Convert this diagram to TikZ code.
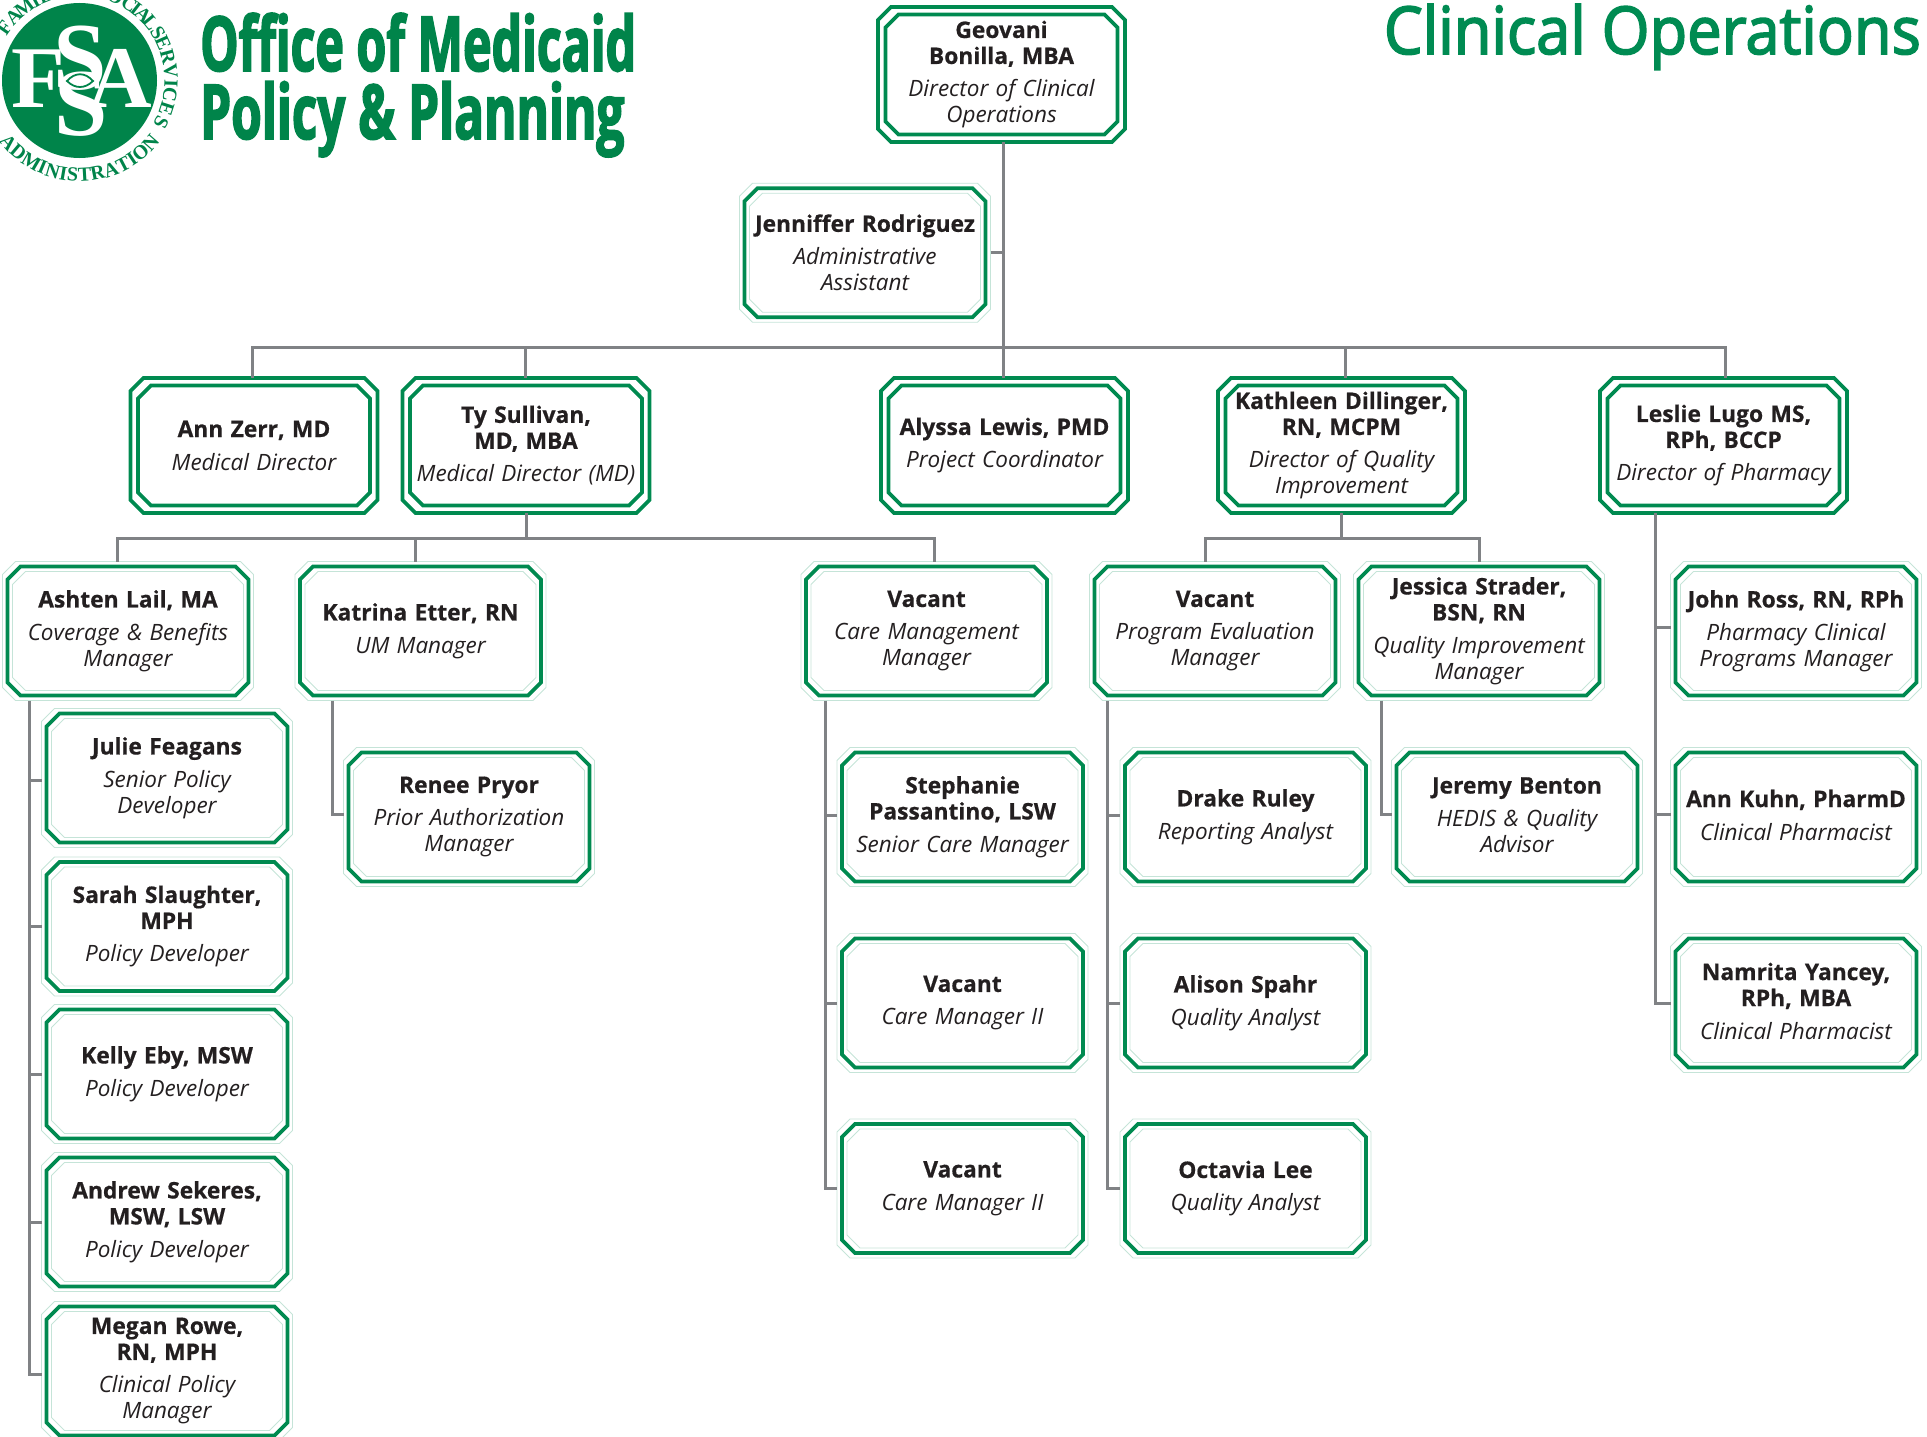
\documentclass[tikz,border=0pt]{standalone}
\usepackage{fontspec}
\usetikzlibrary{calc}
\setmainfont[BoldFeatures={FakeBold=0.6}]{Open Sans}
\newfontfamily\ringfont{Liberation Serif}
\newfontfamily\headfont[FakeStretch=0.635,FakeBold=2]{Open Sans}
\newfontfamily\headfontb[FakeStretch=0.65,FakeBold=2]{Open Sans}
\newfontfamily\titlefont[FakeStretch=0.93,FakeBold=2.5]{Open Sans}
\definecolor{fsagreen}{HTML}{00844A}
\definecolor{linegreen}{HTML}{008A50}
\definecolor{titlegreen}{HTML}{008B52}
\definecolor{palegreen}{HTML}{C5E4D8}
\definecolor{ink}{HTML}{231F20}
\definecolor{wire}{HTML}{808285}
\newcommand{\namefont}{\fontsize{22.8}{26}\bfseries\selectfont}
\newcommand{\rolefont}{\fontsize{22.5}{26}\itshape\selectfont}
\newcommand{\upnudge}{\par\vspace*{4pt}}
\tikzset{
  boxbase/.style={rectangle, inner sep=0pt, outer sep=0pt},
  boxtext/.style={boxbase, text width=230pt, align=center, text=ink, font=\fontsize{22}{26}\selectfont},
  greenline/.style={draw=linegreen, line width=3.8pt},
  paleline/.style={draw=palegreen, line width=0.8pt},
  conn/.style={draw=wire, line width=3pt},
  ringtxt/.style={anchor=base, inner sep=0pt, text=fsagreen, font=\ringfont\bfseries\fontsize{20}{20}\selectfont},
  sealtxt/.style={text=white, inner sep=0pt, font=\ringfont\bfseries\fontsize{88}{88}\selectfont},
  sealess/.style={text=white, inner sep=0pt, font=\ringfont\bfseries\fontsize{96}{96}\selectfont},
}
\newcommand{\chamf}[2]{%
  \draw[#1] ([xshift=13pt]#2.north west) -- ([xshift=-13pt]#2.north east) -- ([yshift=-13pt]#2.north east)
   -- ([yshift=13pt]#2.south east) -- ([xshift=-13pt]#2.south east) -- ([xshift=13pt]#2.south west)
   -- ([yshift=13pt]#2.south west) -- ([yshift=-13pt]#2.north west) -- cycle;
}
\newcommand{\sglnode}[5]{%
  \node[boxbase,minimum width=251pt,minimum height=139pt] (#1-o) at (#2,#3) {};
  \node[boxbase,minimum width=231pt,minimum height=119pt] (#1-i) at (#2,#3) {};
  \node[boxtext,minimum width=241pt,minimum height=129pt] (#1) at (#2,#3) {{\namefont #4}\\[7pt]{\rolefont #5}};
  \chamf{paleline}{#1-o}\chamf{paleline}{#1-i}\chamf{greenline}{#1}
}
\newcommand{\dblnode}[5]{%
  \node[boxbase,minimum width=247pt,minimum height=135pt] (#1-o) at (#2,#3) {};
  \node[boxtext,minimum width=232pt,minimum height=120pt] (#1) at (#2,#3) {{\namefont #4}\\[7pt]{\rolefont #5}};
  \chamf{greenline}{#1-o}\chamf{greenline}{#1}
}
\begin{document}
\begin{tikzpicture}[x=1pt,y=-1pt]
\useasboundingbox (0,0) rectangle (1927,1437);
% logo
\coordinate (c) at (79.5,80.5);
\fill[fsagreen] (c) circle [radius=77.5];
\foreach \ang/\ch [count=\i] in {215/F,224/A,233/M,241/I,248/L,256/Y,268/\&,283/S,293/O,303/C,308/I,314/A,321/L,329/S,336/E,345/R,354/V,362/I,369/C,378/E,387/S}{
  \node[ringtxt,rotate=-\ang-90] (rt\i) at ($(c)+(\ang:85)$) {\ch};
}
\foreach \ang/\ch [count=\i] in {139/A,130.3/D,120.7/M,113.1/I,106.5/N,99.9/I,94.1/S,86.8/T,78.9/R,70.5/A,62.4/T,56.3/I,49.7/O,41/N}{
  \node[ringtxt,rotate=-\ang+90] (rb\i) at ($(c)+(\ang:101)$) {\ch};
}
\node[sealtxt] (logoF) at (38,79) {F};
\node[sealtxt] (logoA) at (120,78) {A};
\node[sealess] (logoS1) at (80.5,58) {S};
\node[sealess] (logoS2) at (81,104) {S};
\draw[fsagreen,line width=1.8pt,fill=white] (67,81) .. controls (75,72) and (85,72) .. (93,81) .. controls (85,89) and (75,89) .. (67,81) -- cycle;
% headings
\node[anchor=base west,inner sep=0,text=fsagreen,font=\headfont\bfseries\fontsize{76}{76}\selectfont] (h1) at (200,71) {Office of Medicaid};
\node[anchor=base west,inner sep=0,text=fsagreen,font=\headfontb\bfseries\fontsize{76}{76}\selectfont] (h2) at (200,139) {Policy \& Planning};
\node[anchor=base east,inner sep=0,text=titlegreen,font=\titlefont\fontsize{66}{66}\selectfont] (title) at (1921,54) {Clinical Operations};
% boxes
\dblnode{geo}{1001.5}{74.5}{Geovani\\Bonilla, MBA}{Director of Clinical\\Operations}
\sglnode{jen}{865}{252.7}{Jenniffer Rodriguez}{Administrative\\Assistant}
\dblnode{ann}{254}{445.5}{Ann Zerr, MD}{Medical Director}
\dblnode{ty}{526}{445.5}{Ty Sullivan,\\MD, MBA}{Medical Director (MD)}
\dblnode{aly}{1004.5}{445.5}{Alyssa Lewis, PMD}{Project Coordinator}
\dblnode{kat}{1341.5}{445.5}{Kathleen Dillinger,\\RN, MCPM}{Director of Quality\\Improvement}
\dblnode{les}{1723.5}{445.5}{Leslie Lugo MS,\\RPh, BCCP}{Director of Pharmacy}
\sglnode{ash}{128}{631}{Ashten Lail, MA}{Coverage \& Benefits\\Manager}
\sglnode{ket}{420.5}{631}{Katrina Etter, RN}{UM Manager}
\sglnode{vcm}{926.5}{631}{Vacant}{Care Management\\Manager}
\sglnode{vpe}{1215}{631}{Vacant}{Program Evaluation\\Manager}
\sglnode{jes}{1479}{631}{Jessica Strader,\\BSN, RN}{Quality Improvement\\Manager}
\sglnode{joh}{1796}{631}{John Ross, RN, RPh}{Pharmacy Clinical\\Programs Manager}
\sglnode{jul}{167}{778}{Julie Feagans}{Senior Policy\\Developer}
\sglnode{sar}{167}{926.5}{Sarah Slaughter,\\MPH}{Policy Developer}
\sglnode{kel}{167}{1074}{Kelly Eby, MSW}{Policy Developer}
\sglnode{and}{167}{1222}{Andrew Sekeres,\\MSW, LSW}{Policy Developer}
\sglnode{meg}{167}{1371}{Megan Rowe,\\RN, MPH}{Clinical Policy\\Manager}
\sglnode{ren}{469}{817}{Renee Pryor}{Prior Authorization\\Manager}
\sglnode{ste}{962.5}{817}{Stephanie\\Passantino, LSW}{Senior Care Manager}
\sglnode{vc1}{962.5}{1003}{Vacant}{Care Manager II}
\sglnode{vc2}{962.5}{1188.5}{Vacant}{Care Manager II}
\sglnode{dra}{1245.5}{817}{Drake Ruley}{Reporting Analyst}
\sglnode{ali}{1245.5}{1003}{Alison Spahr}{Quality Analyst}
\sglnode{oct}{1245.5}{1188.5}{Octavia Lee}{Quality Analyst}
\sglnode{jer}{1517}{817}{Jeremy Benton}{HEDIS \& Quality\\Advisor\upnudge}
\sglnode{aku}{1796}{817}{Ann Kuhn, PharmD}{Clinical Pharmacist\upnudge}
\sglnode{nam}{1796}{1003}{Namrita Yancey,\\RPh, MBA}{Clinical Pharmacist\upnudge}
% connectors
\coordinate (bus1) at (1003,347);
\draw[conn] ([xshift=1.5pt]geo-o.south) -- ([xshift=-1.5pt]aly-o.north);
\draw[conn] (jen-o.east) -- (jen-o.east -| bus1);
\draw[conn] ([xshift=-2pt]ann-o.north) |- (bus1) -| ([xshift=1.5pt]les-o.north);
\draw[conn] ([xshift=-1pt]ty-o.north) -- ([xshift=-1pt]ty-o.north |- bus1);
\draw[conn] ([xshift=3.5pt]kat-o.north) -- ([xshift=3.5pt]kat-o.north |- bus1);
\coordinate (bus2) at (526,538);
\draw[conn] (ty-o.south) -- (bus2);
\draw[conn] ([xshift=-11pt]ash-o.north) |- (bus2) -| ([xshift=8pt]vcm-o.north);
\draw[conn] ([xshift=-5pt]ket-o.north) -- ([xshift=-5pt]ket-o.north |- bus2);
\coordinate (bus3) at (1341.5,538);
\draw[conn] (kat-o.south) -- (bus3);
\draw[conn] ([xshift=-10pt]vpe-o.north) |- (bus3) -| (jes-o.north);
% trunks
\draw[conn] ([xshift=-99pt]ash-o.south) |- ([yshift=-3.7pt]meg-o.west);
\foreach \tgt/\sh in {jul/-2.7,sar/0,kel/0,and/0}{\draw[conn] ([xshift=-99pt,yshift=\sh pt]ash-o.south |- \tgt-o.west) -- ([yshift=\sh pt]\tgt-o.west);}
\draw[conn] ([xshift=-88.5pt]ket-o.south) |- ([yshift=3pt]ren-o.west);
\draw[conn] ([xshift=-101.5pt]vcm-o.south) |- (vc2-o.west);
\foreach \tgt/\sh in {ste/2,vc1/0}{\draw[conn] ([xshift=-101.5pt,yshift=\sh pt]vcm-o.south |- \tgt-o.west) -- ([yshift=\sh pt]\tgt-o.west);}
\draw[conn] ([xshift=-108pt]vpe-o.south) |- (oct-o.west);
\foreach \tgt/\sh in {dra/2,ali/0}{\draw[conn] ([xshift=-108pt,yshift=\sh pt]vpe-o.south |- \tgt-o.west) -- ([yshift=\sh pt]\tgt-o.west);}
\draw[conn] ([xshift=-98pt]jes-o.south) |- ([yshift=3pt]jer-o.west);
\draw[conn] ([xshift=-68.5pt]les-o.south) |- (nam-o.west);
\foreach \tgt/\sh in {joh/4,aku/3}{\draw[conn] ([xshift=-68.5pt,yshift=\sh pt]les-o.south |- \tgt-o.west) -- ([yshift=\sh pt]\tgt-o.west);}
\end{tikzpicture}
\end{document}
